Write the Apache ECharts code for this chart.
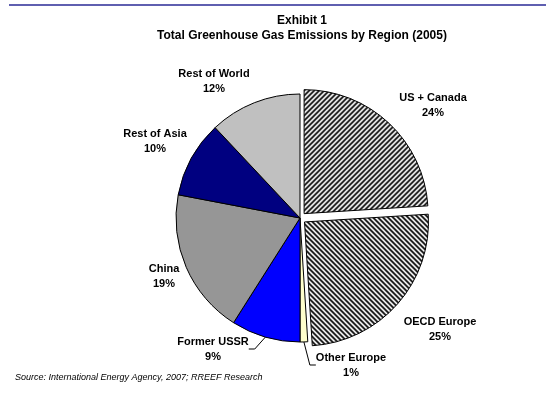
<!DOCTYPE html>
<html>
<head>
<meta charset="utf-8">
<script src="https://cdn.jsdelivr.net/npm/echarts@6/dist/echarts.min.js"></script>
<style>
  html, body { margin: 0; padding: 0; background: #fff; }
  #chart { width: 546px; height: 406px; }
</style>
</head>
<body>
<div id="chart"></div>
<script>
// slice data, clockwise from 12 o'clock
const regions = ['US + Canada', 'OECD Europe', 'Other Europe', 'Former USSR', 'China', 'Rest of Asia', 'Rest of World'];
const shares = [24, 25, 1, 9, 19, 10, 12];
const exploded = ['US + Canada', 'OECD Europe'];

const FONT = '"Liberation Sans", Arial, sans-serif';

// black / white diagonal hatch
function hatch(dir) {
  const n = 5;
  const c = document.createElement('canvas');
  c.width = n; c.height = n;
  const ctx = c.getContext('2d');
  ctx.fillStyle = '#fff';
  ctx.fillRect(0, 0, n, n);
  ctx.strokeStyle = '#000';
  ctx.lineWidth = 1.7;
  ctx.beginPath();
  if (dir === '/') {
    ctx.moveTo(-1, n + 1); ctx.lineTo(n + 1, -1);
    ctx.moveTo(-1, 1); ctx.lineTo(1, -1);
    ctx.moveTo(n - 1, n + 1); ctx.lineTo(n + 1, n - 1);
  } else {
    ctx.moveTo(-1, -1); ctx.lineTo(n + 1, n + 1);
    ctx.moveTo(n - 1, -1); ctx.lineTo(n + 1, 1);
    ctx.moveTo(-1, n - 1); ctx.lineTo(1, n + 1);
  }
  ctx.stroke();
  return { image: c, repeat: 'repeat' };
}

const fills = [hatch('/'), hatch('\\'), '#FFFFCC', '#0000FF', '#969696', '#000080', '#C0C0C0'];
// where each label block sits (centre)
const labelSpots = [[433, 105], [440, 329], [351, 365], [213, 349], [164, 276], [155, 141], [214, 81]];
const withLine = ['Other Europe', 'Former USSR'];

const pieBase = {
  type: 'pie',
  center: [300, 218],
  radius: [0, 124],
  startAngle: 90,
  clockwise: true,
  avoidLabelOverlap: false,
  emphasis: { disabled: true },
  silent: true
};

const chart = echarts.init(document.getElementById('chart'));
chart.setOption({
  animation: false,
  graphic: [
    { type: 'line', shape: { x1: 9, y1: 5, x2: 546, y2: 5 }, style: { stroke: '#5f5fb0', lineWidth: 2 } },
    { type: 'text', x: 302, y: 15, style: { text: 'Exhibit 1', textAlign: 'center', font: 'bold 12px ' + FONT, fill: '#000' } },
    { type: 'text', x: 302, y: 30, style: { text: 'Total Greenhouse Gas Emissions by Region (2005)', textAlign: 'center', font: 'bold 12px ' + FONT, fill: '#000' } },
    { type: 'text', x: 15, y: 373, style: { text: 'Source: International Energy Agency, 2007; RREEF Research', font: 'italic 9px ' + FONT, fill: '#000' } }
  ],
  series: [
    // the slices, two of them pulled out
    Object.assign({}, pieBase, {
      selectedMode: 'multiple',
      selectedOffset: 6,
      itemStyle: { borderColor: '#000', borderWidth: 1 },
      label: { show: false },
      labelLine: { show: false },
      data: regions.map((name, i) => ({
        name: name,
        value: shares[i],
        selected: exploded.includes(name),
        itemStyle: { color: fills[i] }
      }))
    }),
    // the labels, on an invisible copy of the same pie
    Object.assign({}, pieBase, {
      z: 3,
      itemStyle: { color: 'rgba(0,0,0,0)', borderWidth: 0 },
      label: {
        show: true,
        position: 'outside',
        formatter: '{a|{b}}\n{a|{c}%}',
        rich: { a: { fontFamily: FONT, fontWeight: 'bold', fontSize: 11, color: '#000', lineHeight: 15, align: 'center' } }
      },
      labelLine: { show: false, lineStyle: { color: '#000', width: 1 }, length: 12, length2: 6 },
      labelLayout: function (p) {
        const s = labelSpots[p.dataIndex];
        return { x: s[0], y: s[1], align: 'center', verticalAlign: 'middle' };
      },
      data: regions.map((name, i) => ({
        name: name,
        value: shares[i],
        labelLine: { show: withLine.includes(name) }
      }))
    })
  ]
});
</script>
</body>
</html>
